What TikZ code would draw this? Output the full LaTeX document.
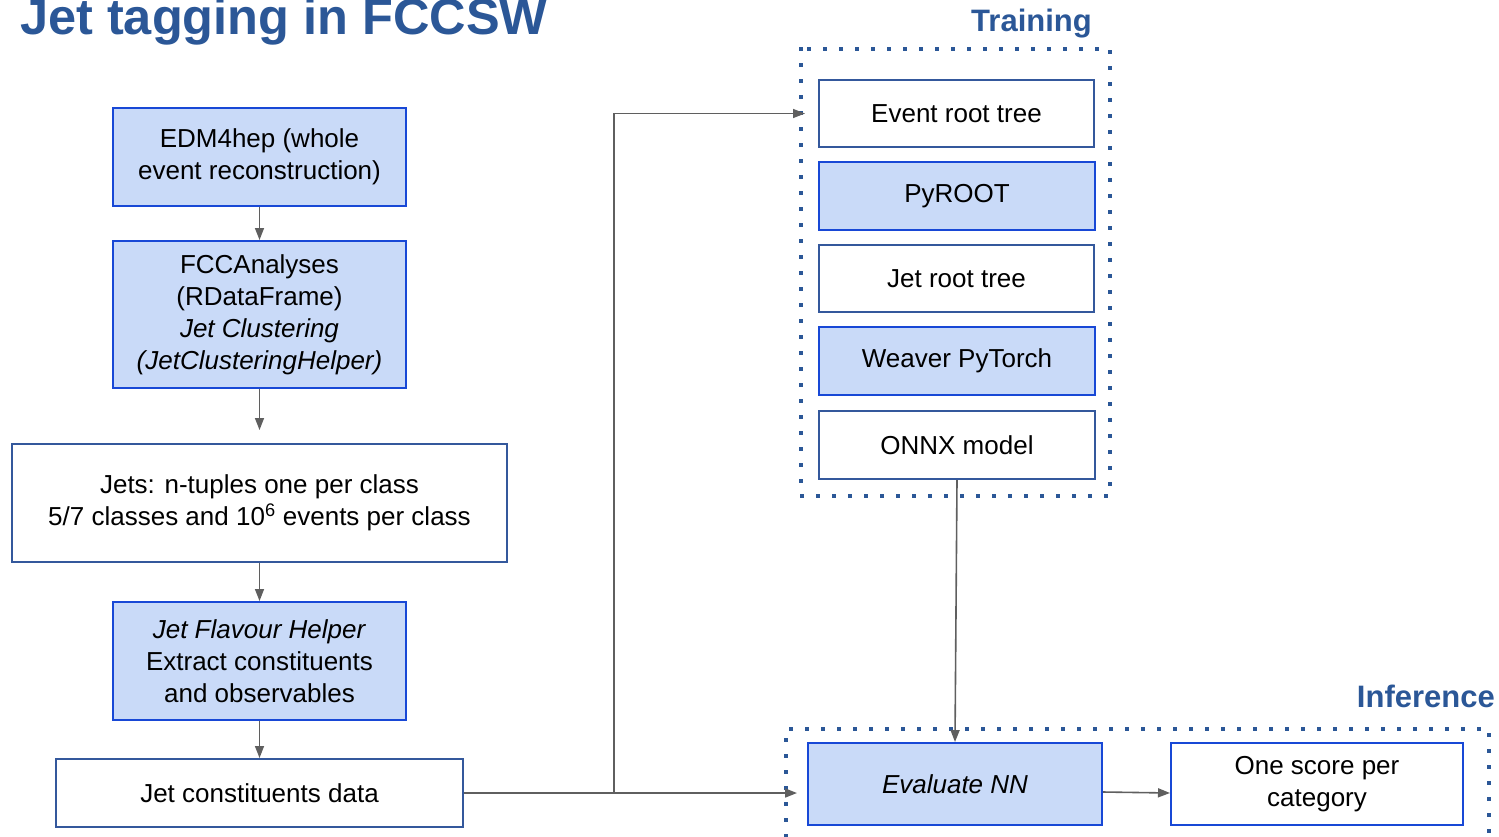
\documentclass[tikz,border=0pt]{standalone}
\usepackage{fontspec}
\setmainfont{Liberation Sans}
\usepackage{xcolor}
\usepackage{tikz}
\usetikzlibrary{arrows.meta, positioning, calc}
\definecolor{titleblue}{RGB}{43, 87, 151}
\definecolor{boxfill}{RGB}{201, 218, 248}
\definecolor{brightblue}{RGB}{24, 72, 214}
\definecolor{darkblue}{RGB}{52, 88, 156}
\definecolor{arrowgray}{RGB}{95, 95, 95}
\newcommand{\bodyfont}{\fontsize{26}{32}\selectfont}

\begin{document}
\begin{tikzpicture}[
  x=1pt, y=-1pt,
  stage/.style={rectangle, draw=brightblue, fill=boxfill, line width=2pt,
                inner sep=0pt, align=center, font=\bodyfont},
  data/.style={rectangle, draw=darkblue, fill=white, line width=2pt,
               inner sep=0pt, align=center, font=\bodyfont},
  frame/.style={titleblue, line width=3.5pt, line cap=rect,
                dash pattern=on 0.5pt off 15.5pt},
  conn/.style={-{Triangle[length=12pt, width=9pt]}, arrowgray, line width=1.6pt},
  heading/.style={text=titleblue, font=\bfseries, inner sep=0pt}
]
  \useasboundingbox (0,0) rectangle (1499,836);

  % ── Headings ───────────────────────────────────────────────────────────────
  \node[heading, anchor=base west, font=\fontsize{50.5}{56}\selectfont\bfseries]
    (title) at (20,34) {Jet tagging in FCCSW};
  \node[heading, anchor=base east, font=\fontsize{31}{36}\selectfont\bfseries]
    (trainlbl) at (1092,31) {Training};
  \node[heading, anchor=base east, font=\fontsize{31}{36}\selectfont\bfseries]
    (inferlbl) at (1495,707) {Inference};

  % ── Dotted frames ──────────────────────────────────────────────────────────
  \draw[frame] (801,49) rectangle (1110,496);
  \draw[frame] (786,836) -- (786,729) -- (1489,729) -- (1489,836);

  % ── Left column ────────────────────────────────────────────────────────────
  \node[stage, minimum width=293, minimum height=98] (edm) at (259.5,157)
    {EDM4hep (whole\\event reconstruction)};
  \node[stage, minimum width=293, minimum height=147] (fcca) at (259.5,314.5)
    {FCCAnalyses\\(RDataFrame)\\\textit{Jet Clustering}\\\textit{(JetClusteringHelper)}};
  \node[data, minimum width=495, minimum height=118] (jets) at (259.5,503)
    {Jets: n-tuples one per class\\5/7 classes and 10\textsuperscript{6} events per class};
  \node[stage, minimum width=293, minimum height=118] (flav) at (259.5,661)
    {\textit{Jet Flavour Helper}\\Extract constituents\\and observables};
  \node[data, minimum width=407, minimum height=68] (jcd) at (259.5,793)
    {Jet constituents data};

  % ── Training column ────────────────────────────────────────────────────────
  \node[data,  minimum width=275, minimum height=67] (ert)    at (956.5,113.5) {Event root tree};
  \node[stage, minimum width=276, minimum height=68] (pyroot) at (957,196)     {PyROOT};
  \node[data,  minimum width=275, minimum height=67] (jrt)    at (956.5,278.5) {Jet root tree};
  \node[stage, minimum width=276, minimum height=68] (weaver) at (957,361)     {Weaver PyTorch};
  \node[data,  minimum width=276, minimum height=68] (onnx)   at (957,445)     {ONNX model};

  % ── Inference row ──────────────────────────────────────────────────────────
  \node[stage, minimum width=294, minimum height=82] (evalnn) at (955,784)
    {\textit{Evaluate NN}};
  \node[stage, draw=brightblue, fill=white, minimum width=292, minimum height=82]
    (score) at (1317,784) {One score per\\category};

  % ── Connections ────────────────────────────────────────────────────────────
  \draw[conn] (edm) -- (fcca);
  \draw[conn, shorten >=13pt] (fcca) -- (jets);
  \draw[conn] (jets) -- (flav);
  \draw[conn] (flav) -- (jcd);
  \coordinate (split) at (614,793);
  \draw[conn, shorten >=10pt] (jcd.east) -- (jcd.east -| evalnn.west);
  \draw[conn, shorten >=13pt] (split) |- (ert.west);
  \draw[conn] (onnx.south -| evalnn.north) ++(2,0) -- (evalnn.north);
  \draw[conn] ($(evalnn.east)+(0,8)$) -- ($(score.west)+(0,9)$);
\end{tikzpicture}
\end{document}
